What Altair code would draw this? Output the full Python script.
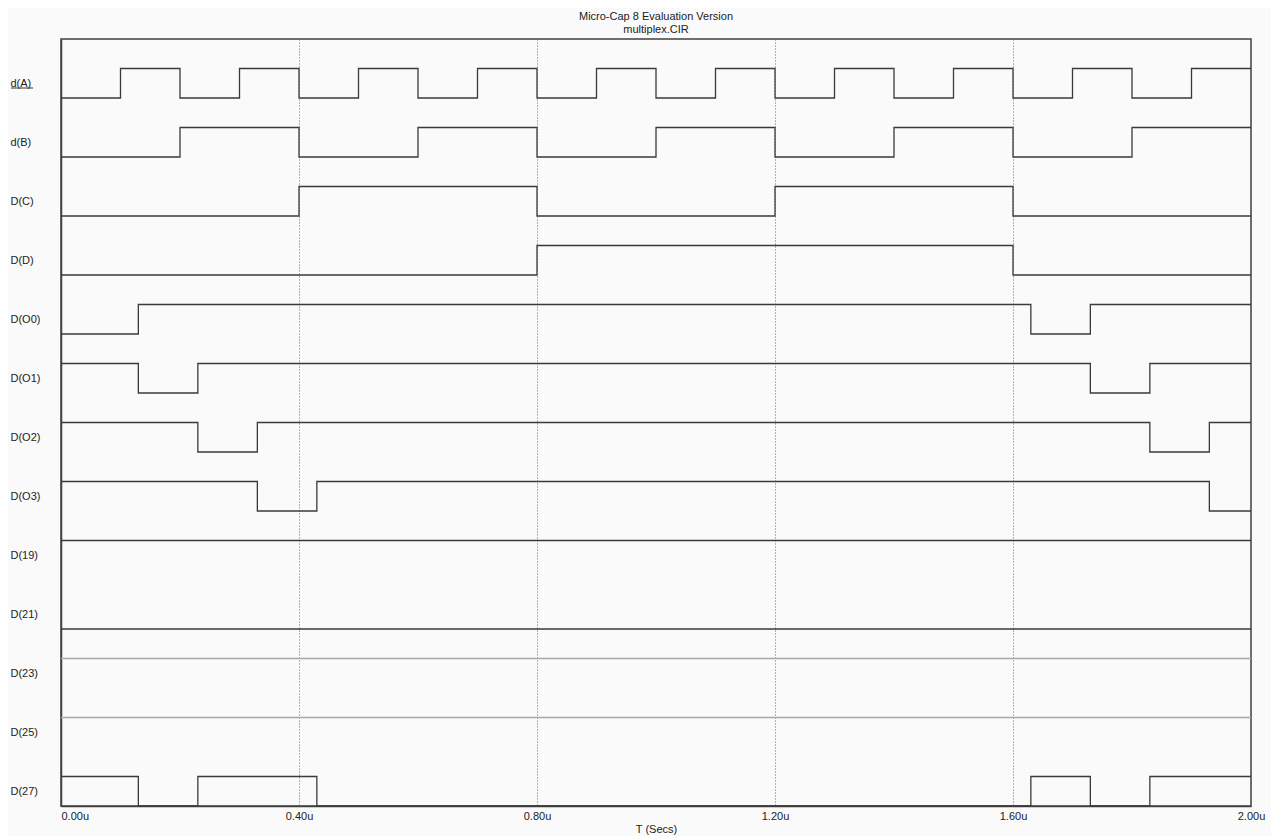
import altair as alt
import pandas as pd

# Signal names, top to bottom
signals = ["d(A)", "d(B)", "D(C)", "D(D)", "D(O0)", "D(O1)", "D(O2)", "D(O3)",
           "D(19)", "D(21)", "D(23)", "D(25)", "D(27)"]

# Transition times (microseconds) and the level held from each time on
A_t = [0.0, 0.1, 0.2, 0.3, 0.4, 0.5, 0.6, 0.7, 0.8, 0.9, 1.0, 1.1, 1.2, 1.3, 1.4, 1.5, 1.6, 1.7, 1.8, 1.9, 2.0]
A_v = [0, 1, 0, 1, 0, 1, 0, 1, 0, 1, 0, 1, 0, 1, 0, 1, 0, 1, 0, 1, 1]
B_t = [0.0, 0.2, 0.4, 0.6, 0.8, 1.0, 1.2, 1.4, 1.6, 1.8, 2.0]
B_v = [0, 1, 0, 1, 0, 1, 0, 1, 0, 1, 1]
C_t = [0.0, 0.4, 0.8, 1.2, 1.6, 2.0]
C_v = [0, 1, 0, 1, 0, 0]
D_t = [0.0, 0.8, 1.6, 2.0]
D_v = [0, 1, 0, 0]
O0_t = [0.0, 0.13, 1.63, 1.73, 2.0]
O0_v = [0, 1, 0, 1, 1]
O1_t = [0.0, 0.13, 0.23, 1.73, 1.83, 2.0]
O1_v = [1, 0, 1, 0, 1, 1]
O2_t = [0.0, 0.23, 0.33, 1.83, 1.93, 2.0]
O2_v = [1, 0, 1, 0, 1, 1]
O3_t = [0.0, 0.33, 0.43, 1.93, 2.0]
O3_v = [1, 0, 1, 0, 0]
S19_t = [0.0, 2.0]
S19_v = [1, 1]
S21_t = [0.0, 2.0]
S21_v = [0, 0]
S23_t = [0.0, 2.0]
S23_v = [1, 1]
S25_t = [0.0, 2.0]
S25_v = [1, 1]
S27_t = [0.0, 0.13, 0.23, 0.43, 1.63, 1.73, 1.83, 2.0]
S27_v = [1, 0, 1, 0, 1, 0, 1, 1]

series = [(A_t, A_v), (B_t, B_v), (C_t, C_v), (D_t, D_v), (O0_t, O0_v), (O1_t, O1_v),
          (O2_t, O2_v), (O3_t, O3_v), (S19_t, S19_v), (S21_t, S21_v), (S23_t, S23_v),
          (S25_t, S25_v), (S27_t, S27_v)]
light = {"D(23)", "D(25)"}

x_ticks = [0.0, 0.4, 0.8, 1.2, 1.6, 2.0]
n = len(signals)

rows = []
for i, (name, (ts, vs)) in enumerate(zip(signals, series)):
    base = (n - 1) - i
    for t, v in zip(ts, vs):
        rows.append({"signal": name, "t": t, "y": base + 0.5 * v,
                     "shade": "light" if name in light else "dark", "order": i})
df = pd.DataFrame(rows)

label_values = [(n - 1) - i + 0.25 for i in range(n)]
label_array = "[" + ",".join("'" + s + "'" for s in signals) + "]"

x_scale = alt.Scale(domain=[0, 2.0], nice=False, zero=False)
y_scale = alt.Scale(domain=[0, n], nice=False, zero=False)

lines = alt.Chart(df).mark_line(interpolate="step-after", strokeWidth=1.3, clip=False).encode(
    x=alt.X("t:Q", scale=x_scale,
            axis=alt.Axis(values=x_ticks, title="T (Secs)", grid=True,
                          gridDash=[1, 2], gridColor="#6a6a6a", gridWidth=1,
                          ticks=False, tickSize=0, labelPadding=4,
                          labelExpr="format(datum.value, '.2f') + 'u'",
                          labelAlign=alt.condition("datum.value == 0", alt.value("left"), alt.value("center")),
                          labelFontSize=11, labelColor="#222", labelFont="Liberation Sans",
                          titleFontSize=11, titleFontWeight="normal", titleColor="#222",
                          titleFont="Liberation Sans", titlePadding=2,
                          domain=True, domainColor="#404040", domainWidth=1.5)),
    y=alt.Y("y:Q", scale=y_scale,
            axis=alt.Axis(values=label_values, title=None, grid=False, ticks=False, tickSize=0,
                          labelPadding=51, labelAlign="left", labelBaseline="middle",
                          labelExpr=label_array + "[round(" + str(n - 1) + ".25 - datum.value)]",
                          labelFontSize=11, labelColor="#222", labelFont="Liberation Sans",
                          domain=True, domainColor="#404040", domainWidth=1.5)),
    color=alt.Color("shade:N", scale=alt.Scale(domain=["dark", "light"], range=["#3a3a3a", "#a8a8a8"]),
                    legend=None),
    detail="signal:N",
)

# underline of the selected trace label d(A)
underline = alt.Chart(pd.DataFrame({"k": [0]})).mark_rule(color="#333", strokeWidth=1).encode(
    x=alt.value(-50), x2=alt.value(-28), y=alt.value(49)
)

chart = alt.layer(lines, underline).properties(
    width=1190, height=767,
    title=alt.Title(text=["Micro-Cap 8 Evaluation Version", "multiplex.CIR"], fontSize=11,
                    font="Liberation Sans", fontWeight="normal", color="#222",
                    lineHeight=13, offset=4, anchor="middle"),
    padding={"left": 53, "top": 31, "right": 20, "bottom": 30},
    autosize="none",
    background="#fafafa",
).configure_view(stroke="#404040", strokeWidth=1.5, fill="#fafafa")

chart.save("out.html", embed_options={"renderer": "svg", "actions": False})
